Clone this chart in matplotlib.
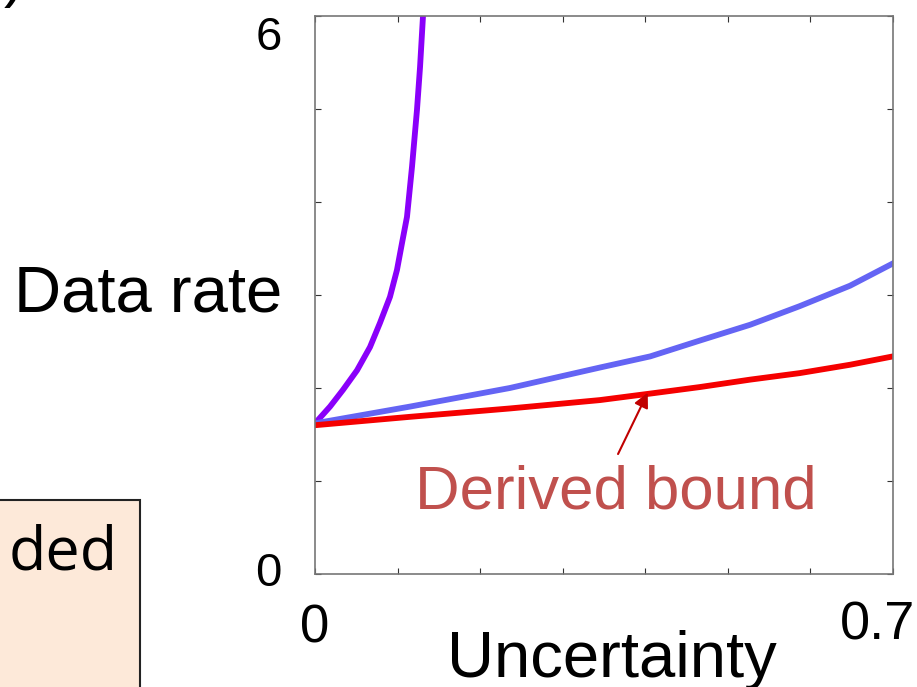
import numpy as np
import matplotlib.pyplot as plt
from matplotlib.patches import Rectangle

# values (uncertainty vs data rate)
x_purple = [0.0, 0.0182, 0.0339, 0.0509, 0.0666, 0.0787, 0.0908, 0.0993, 0.1054,
            0.1114, 0.1175, 0.1235, 0.1272, 0.1308]
y_purple = [1.62, 1.80, 1.98, 2.19, 2.44, 2.70, 2.98, 3.27, 3.56,
            3.84, 4.38, 4.99, 5.45, 6.0]

x_blue = [0.0, 0.115, 0.236, 0.345, 0.406, 0.466, 0.527, 0.587, 0.648, 0.7]
y_blue = [1.62, 1.80, 2.00, 2.22, 2.34, 2.51, 2.68, 2.88, 3.10, 3.34]

x_red = [0.0, 0.115, 0.236, 0.345, 0.406, 0.466, 0.527, 0.587, 0.648, 0.7]
y_red = [1.60, 1.69, 1.78, 1.87, 1.94, 2.01, 2.09, 2.16, 2.25, 2.34]

x_ticks = np.arange(0, 0.71, 0.1)
y_ticks = np.arange(0, 7, 1)

font = ['Liberation Sans', 'DejaVu Sans']

fig = plt.figure(figsize=(9.17, 6.87), dpi=100)
ax = fig.add_axes([315/917, 1 - 574/687, 578/917, 558/687])

ax.plot(x_purple, y_purple, color='#8A00FA', lw=4.2, solid_joinstyle='round')
ax.plot(x_blue, y_blue, color='#6464F4', lw=4.2, solid_joinstyle='round')
ax.plot(x_red, y_red, color='#F50000', lw=4.2, solid_joinstyle='round')

ax.set_xlim(0, 0.7)
ax.set_ylim(0, 6)
ax.set_xticks(x_ticks)
ax.set_yticks(y_ticks)
ax.set_xticklabels([])
ax.set_yticklabels([])
ax.tick_params(direction='in', length=4, width=0.8, color='#333333',
               top=True, right=True)
for s in ax.spines.values():
    s.set_color('#777777')
    s.set_linewidth(1.2)

# axis end labels
ax.annotate('6', xy=(0, 6), xycoords='data', xytext=(-24, 0), textcoords='offset points',
            ha='right', va='top', fontsize=34, family=font, annotation_clip=False)
ax.annotate('0', xy=(0, 0), xycoords='data', xytext=(-24, 0), textcoords='offset points',
            ha='right', va='center', fontsize=34, family=font, annotation_clip=False)
ax.annotate('0', xy=(0, 0), xycoords='data', xytext=(0, -21), textcoords='offset points',
            ha='center', va='top', fontsize=38, family=font, annotation_clip=False)
ax.annotate('0.7', xy=(0.7, 0), xycoords='data', xytext=(16, -19), textcoords='offset points',
            ha='right', va='top', fontsize=39, family=font, annotation_clip=False)

ax.text(-0.057, 0.5, 'Data rate', transform=ax.transAxes, ha='right', va='center',
        fontsize=47, family=font)
ax.text(0.514, -0.10, 'Uncertainty', transform=ax.transAxes, ha='center', va='top',
        fontsize=47, family=font)

ax.annotate('', xy=(0.403, 1.95), xytext=(0.367, 1.29),
            arrowprops=dict(arrowstyle='-|>', color='#C00000', lw=1.5,
                            mutation_scale=22, shrinkA=0, shrinkB=0))
ax.text(0.3645, 0.87, 'Derived bound', ha='center', va='center',
        fontsize=44.5, color='#C0504D', family=font)

# pieces of the neighbouring slide content
fig.patches.append(Rectangle((-10/917, -20/687), 150/917, 207/687,
                             transform=fig.transFigure, facecolor='#FDE9D9',
                             edgecolor='#222222', lw=1.5))
fig.text(9/917, 1 - 553/687, 'ded', ha='left', va='center', fontsize=44,
         family=['Open Sans', 'DejaVu Sans'])
fig.text(4/917, 1 + 22/687, ')', ha='left', va='center', fontsize=45, family=font)

fig.savefig('out.png', dpi=100)
